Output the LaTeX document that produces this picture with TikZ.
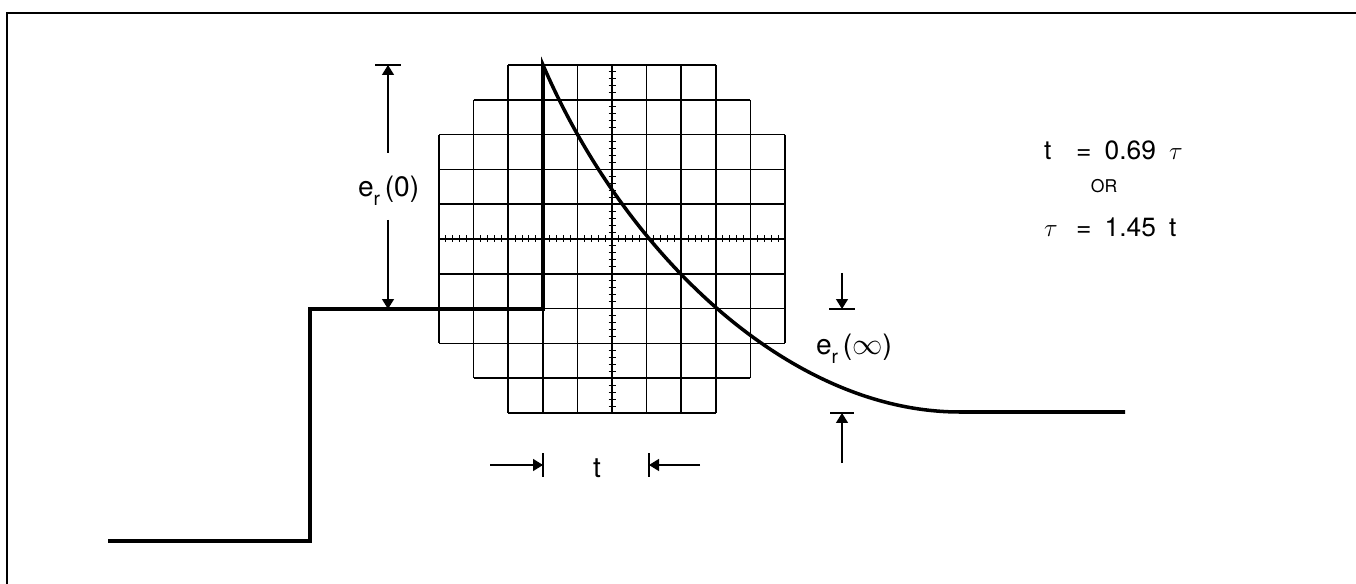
\documentclass[tikz,border=0pt]{standalone}
\usepackage{fontspec}
\setmainfont{TeX Gyre Heros}
\usetikzlibrary{arrows.meta}

\newcommand{\subr}{\raisebox{-0.6ex}{\fontsize{11}{12}\selectfont r}}

\begin{document}
\begin{tikzpicture}[
    x=0.02cm, y=-0.02cm,
    font=\fontsize{15}{17}\selectfont,
    gridline/.style={line width=0.85pt},
    tickmark/.style={line width=0.6pt},
    signal/.style={line width=2pt, line join=miter},
    dimarrow/.style={
        -{Triangle[length=2mm,width=2.4mm]},
        line width=0.8pt
    },
    dimbar/.style={line width=0.8pt},
    lbl/.style={inner sep=1pt},
    frameline/.style={line width=1.1pt}
]
\useasboundingbox (0,0) rectangle (1356,584);

% ------------------------------------------------------------------
% Frame
% ------------------------------------------------------------------

\draw[frameline] (7,584) -- (7,13) -- (1356,13);

% ------------------------------------------------------------------
% Graticule
% ------------------------------------------------------------------

\foreach \r/\a/\b in {0/2/8,1/1/9,2/0/10,3/0/10,4/0/10,5/0/10,
                      6/0/10,7/0/10,8/0/10,9/1/9,10/2/8}{
    \draw[gridline] ({439+34.6*\a},{65+34.8*\r})
        -- ({439+34.6*\b},{65+34.8*\r});
    \draw[gridline] ({439+34.6*\r},{65+34.8*\a})
        -- ({439+34.6*\r},{65+34.8*\b});
}

\foreach \k in {1,...,49}{
    \draw[tickmark] ({439+6.92*\k},235.5) -- ++(0,7);
    \draw[tickmark] (608.5,{65+6.96*\k}) -- ++(7,0);
}

% ------------------------------------------------------------------
% Signal
% ------------------------------------------------------------------

\coordinate (start) at (108,541);
\coordinate (stepfoot) at (310,541);
\coordinate (steptop) at (310,309);
\coordinate (peakfoot) at (543,309);
\coordinate (peak) at (543,65);
\coordinate (settle) at (960,412);
\coordinate (finish) at (1125,412);

\draw[signal] (start) -- (stepfoot) -- (steptop) -- (peakfoot)
    -- (peak) .. controls (625,255) and (790,412) .. (settle)
    -- (finish);

% ------------------------------------------------------------------
% Dimensions
% ------------------------------------------------------------------

\node[lbl, anchor=base west, font=\fontsize{16}{18}\selectfont] (erzero)
    at (356,197) {e\subr\,(0)};

\coordinate (erzerotop) at (388,65);
\coordinate (erzerobot) at (388,309);
\coordinate (erzeroup) at (388,153);
\coordinate (erzerodown) at (388,220);

\draw[dimbar] (erzerotop) +(-13,0) -- +(13,0);
\draw[dimarrow] (erzeroup) -- (erzerotop);
\draw[dimarrow] (erzerodown) -- (erzerobot);

\node[lbl, anchor=base west, font=\fontsize{16}{18}\selectfont] (erinf)
    at (814,355) {e\subr\,($\infty$)};

\coordinate (erinftop) at (842,309);
\coordinate (erinfbot) at (842,413);
\coordinate (erinfup) at (842,273);
\coordinate (erinfdown) at (842,463);

\draw[dimbar] (erinftop) +(-13,0) -- +(13,0);
\draw[dimbar] (erinfbot) +(-12,0) -- +(12,0);
\draw[dimarrow] (erinfup) -- (erinftop);
\draw[dimarrow] (erinfdown) -- (erinfbot);

\node[lbl, anchor=base, font=\fontsize{16}{18}\selectfont] (tlabel)
    at (597,477) {t};

\coordinate (tleft) at (543,465);
\coordinate (tright) at (649,465);
\coordinate (tleftend) at (490,465);
\coordinate (trightend) at (700,465);

\draw[dimbar] (tleft) +(0,-12) -- +(0,12);
\draw[dimbar] (tright) +(0,-12) -- +(0,12);
\draw[dimarrow] (tleftend) -- (tleft);
\draw[dimarrow] (trightend) -- (tright);

% ------------------------------------------------------------------
% Relations
% ------------------------------------------------------------------

\node[lbl, anchor=base west] (eqtime) at (1042,160)
    {\makebox[0.64cm][l]{t}=\enspace0.69\enspace$\tau$};

\node[lbl, anchor=base, font=\fontsize{10}{12}\selectfont] (orword)
    at (1104,193) {OR};

\node[lbl, anchor=base west] (eqtau) at (1042,237)
    {\makebox[0.64cm][l]{$\tau$}=\enspace1.45\enspace t};

\end{tikzpicture}
\end{document}
